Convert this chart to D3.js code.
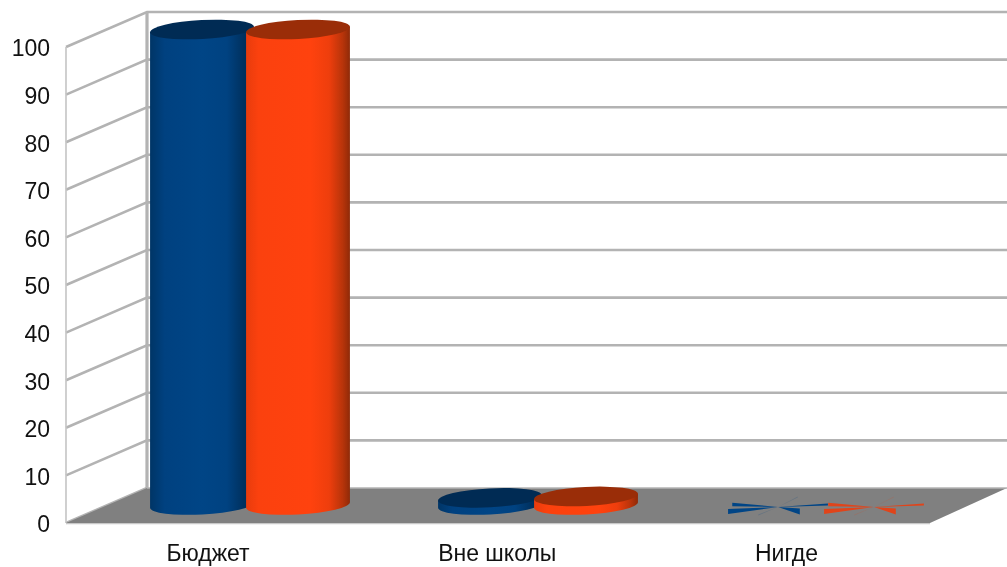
<html>
    <head>
        <meta charset="utf-8">
        <title>Бюджет</title>
        <script type="text/javascript" src="https://d3js.org/d3.v7.min.js"></script>
        <style>
            body { margin: 0; background: #fff; }
            svg { display: block; filter: blur(0.5px); }
            text { font-family: "Liberation Sans", sans-serif; fill: #111; }
        </style>
    </head>

    <body>
        <script type="text/javascript">
            // chart values
            var categories = ["Бюджет", "Вне школы", "Нигде"];
            var series1 = [100, 1.5, 0];
            var series2 = [100, 1.8, 0];
            var yTicks = [0, 10, 20, 30, 40, 50, 60, 70, 80, 90, 100];

            var w = 1007, h = 567;
            var svg = d3.select("body").append("svg").attr("width", w).attr("height", h);
            var defs = svg.append("defs");

            // front edge, back wall and the plane the cylinders stand in
            var yFront = d3.scaleLinear().domain([0, 100]).range([523, 47]);
            var yBack = d3.scaleLinear().domain([0, 100]).range([488, 12]);
            var yBar = d3.scaleLinear().domain([0, 100]).range([505, 29.5]);
            var xFront = 66, xBack = 147, xFloorEnd = 930;

            var xCat = d3.scalePoint().domain(categories).range([250, 826]);
            var xLabel = d3.scalePoint().domain(categories).range([207.5, 786]);
            var barOffset = 48, rx = 52, ry = 9.5, tilt = -3;

            function gradient(id, stops) {
                var g = defs.append("linearGradient").attr("id", id);
                stops.forEach(function(s) {
                    g.append("stop").attr("offset", s[0]).attr("stop-color", s[1]);
                });
            }
            gradient("blue", [[0, "#003566"], [0.14, "#004180"], [0.5, "#004586"], [0.74, "#004281"], [0.9, "#00315f"], [1, "#002c55"]]);
            gradient("orange", [[0, "#e83c0d"], [0.12, "#fb410e"], [0.62, "#ff420e"], [0.8, "#ee3e0d"], [0.93, "#b8340a"], [1, "#8f2a08"]]);

            var colors = [
                { side: "url(#blue)", top: "#002b54", flat: "#004586" },
                { side: "url(#orange)", top: "#9a2d08", flat: "#e0441a" }
            ];

            // walls and grid
            svg.append("g").selectAll("path").data(yTicks).enter().append("path")
                .attr("d", function(d) {
                    return "M" + xFront + "," + yFront(d) + "L" + xBack + "," + yBack(d) + (d > 0 ? "L" + w + "," + yBack(d) : "");
                })
                .attr("fill", "none")
                .attr("stroke", "#b3b3b3")
                .attr("stroke-width", 2.6);

            svg.append("line").attr("x1", xFront).attr("x2", xFront)
                .attr("y1", yFront(100)).attr("y2", yFront(0))
                .attr("stroke", "#c4c4c4").attr("stroke-width", 1.6);
            svg.append("line").attr("x1", xBack).attr("x2", xBack)
                .attr("y1", yBack(100)).attr("y2", yBack(0))
                .attr("stroke", "#b3b3b3").attr("stroke-width", 3.2);

            // floor
            svg.append("path")
                .attr("d", "M" + xFront + "," + yFront(0) + "L" + xBack + "," + yBack(0) + "L" + w + "," + yBack(0) + "L" + xFloorEnd + "," + yFront(0) + "Z")
                .attr("fill", "#808080");
            svg.append("line").attr("x1", xBack).attr("x2", w)
                .attr("y1", yBack(0)).attr("y2", yBack(0))
                .attr("stroke", "#b3b3b3").attr("stroke-width", 1.6);
            svg.append("line").attr("x1", xFront).attr("x2", xFloorEnd)
                .attr("y1", yFront(0) + 0.6).attr("y2", yFront(0) + 0.6)
                .attr("stroke", "#c8c8c8").attr("stroke-width", 1.2);

            // a cylinder of zero height falls apart into thin wedges
            var wedges = [
                { dx: -0.88, dy: -2.5, half: 1.8, o: 1 },
                { dx: -0.96, dy: 4.5, half: 2.4, o: 1 },
                { dx: 0.96, dy: -2.5, half: 1.1, o: 1 },
                { dx: 0.42, dy: 4.5, half: 3, o: 1 },
                { dx: 0.38, dy: -10, half: 0.6, o: 0.2 },
                { dx: -0.38, dy: 8, half: 0.6, o: 0.2 }
            ];

            function drawBar(cx, v, c) {
                var g = svg.append("g");
                var baseY = yBar(0), topY = yBar(v);
                if (v === 0) {
                    g.selectAll("path").data(wedges).enter().append("path")
                        .attr("d", function(d) {
                            var ex = cx + d.dx * rx, ey = baseY + 2 + d.dy;
                            return "M" + cx + "," + (baseY + 2) + "L" + ex + "," + (ey - d.half) + "L" + ex + "," + (ey + d.half) + "Z";
                        })
                        .attr("fill", c.flat)
                        .attr("opacity", function(d) { return d.o; });
                    return;
                }
                var a = tilt * Math.PI / 180;
                var ex = rx * Math.cos(a), ey = rx * Math.sin(a);
                g.append("path")
                    .attr("d", "M" + (cx - ex) + "," + (topY - ey) +
                        "L" + (cx - ex) + "," + (baseY - ey) +
                        "A" + rx + "," + ry + " " + tilt + " 0 0 " + (cx + ex) + "," + (baseY + ey) +
                        "L" + (cx + ex) + "," + (topY + ey) + "Z")
                    .attr("fill", c.side);
                g.append("ellipse")
                    .attr("rx", rx).attr("ry", ry)
                    .attr("transform", "translate(" + cx + "," + topY + ") rotate(" + tilt + ")")
                    .attr("fill", c.top);
            }

            categories.forEach(function(cat, i) {
                drawBar(xCat(cat) - barOffset, series1[i], colors[0]);
                drawBar(xCat(cat) + barOffset, series2[i], colors[1]);
            });

            // axes, only their labels show
            var yAxis = d3.axisLeft(yFront).tickValues(yTicks).tickSize(0).tickPadding(0);
            var yg = svg.append("g").attr("transform", "translate(50,1.5)").call(yAxis);
            yg.select(".domain").remove();
            yg.selectAll("text").style("font-size", "23px").style("font-family", "Liberation Sans");

            var xAxis = d3.axisBottom(xLabel).tickSize(0).tickPadding(0);
            var xg = svg.append("g").attr("transform", "translate(0,545)").call(xAxis);
            xg.select(".domain").remove();
            xg.selectAll("text").style("font-size", "23px").style("font-family", "Liberation Sans");
        </script>
    </body>
</html>
